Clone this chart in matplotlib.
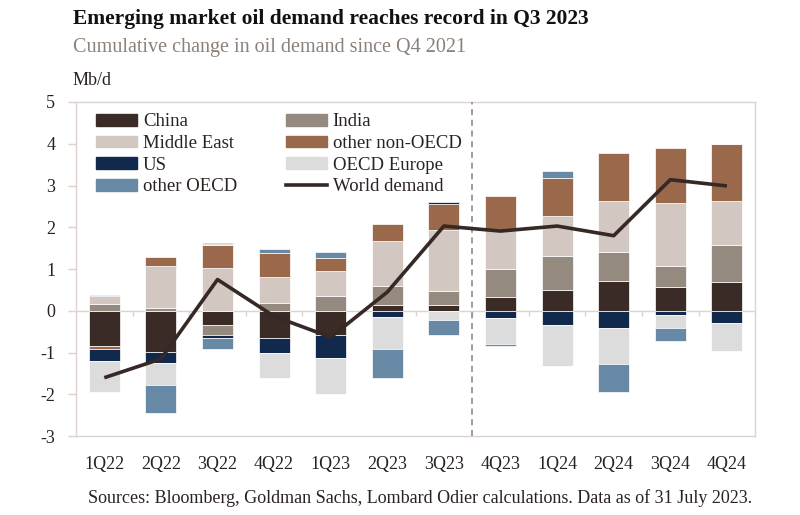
import numpy as np
import matplotlib
matplotlib.use("Agg")
from matplotlib import pyplot as plt
from matplotlib.patches import Patch
from matplotlib.lines import Line2D

plt.rcParams['font.family'] = ['Liberation Serif', 'DejaVu Serif']
plt.rcParams['axes.unicode_minus'] = False

quarters = ['1Q22', '2Q22', '3Q22', '4Q22', '1Q23', '2Q23', '3Q23',
            '4Q23', '1Q24', '2Q24', '3Q24', '4Q24']

# cumulative change since Q4 2021, Mb/d
china = [-0.84, -0.99, -0.35, -0.65, -0.58, 0.15, 0.14, 0.32, 0.51, 0.72, 0.56, 0.68]
india = [0.17, 0.06, -0.22, 0.20, 0.35, 0.45, 0.34, 0.68, 0.80, 0.68, 0.52, 0.90]
middle_east = [0.19, 1.02, 1.02, 0.61, 0.60, 1.07, 1.46, 0.94, 0.96, 1.24, 1.49, 1.04]
other_non_oecd = [-0.07, 0.22, 0.56, 0.58, 0.32, 0.42, 0.61, 0.82, 0.91, 1.14, 1.32, 1.38]
us = [-0.30, -0.26, -0.07, -0.36, -0.56, -0.15, 0.05, -0.16, -0.35, -0.40, -0.09, -0.28]
oecd_europe = [-0.74, -0.53, 0.08, -0.60, -0.86, -0.77, -0.23, -0.64, -0.97, -0.87, -0.31, -0.69]
other_oecd = [0.03, -0.66, -0.28, 0.09, 0.14, -0.68, -0.35, -0.03, 0.16, -0.66, -0.31, 0.0]
world = [-1.60, -1.15, 0.75, -0.13, -0.63, 0.45, 2.03, 1.91, 2.03, 1.80, 3.14, 2.99]

series = [
    ('China', china, '#3a2b27'),
    ('India', india, '#958a80'),
    ('Middle East', middle_east, '#d3c7c1'),
    ('other non-OECD', other_non_oecd, '#9a694c'),
    ('US', us, '#10294c'),
    ('OECD Europe', oecd_europe, '#dddcdc'),
    ('other OECD', other_oecd, '#6889a5'),
]
line_col = '#362824'
frame_col = '#dcd3ce'
text_col = '#2a2220'

fig = plt.figure(figsize=(8, 5.15), dpi=100)
ax = fig.add_axes([0.095, 0.153, 0.849, 0.649])

x = np.arange(len(quarters))
pos = np.zeros(len(x))
neg = np.zeros(len(x))
for name, vals, col in series:
    v = np.array(vals)
    bottom = np.where(v >= 0, pos, neg)
    ax.bar(x, v, 0.55, bottom=bottom, color=col, edgecolor='white',
           linewidth=0.5, zorder=3)
    pos = pos + np.where(v >= 0, v, 0)
    neg = neg + np.where(v < 0, v, 0)

ax.plot(x, world, color=line_col, lw=2.6, zorder=5, solid_capstyle='butt')

# zero line with small category ticks, and the forecast divider
ax.axhline(0, color=frame_col, lw=1, zorder=2)
bounds = np.arange(0.5, len(x) - 1, 1.0)
ax.vlines(bounds, -0.13, 0, color=frame_col, lw=1, zorder=2)
ax.axvline(6.5, color='#8a807a', lw=1.1, ls=(0, (4, 3)), zorder=4)

ax.set_xlim(-0.5, 11.5)
ax.set_ylim(-3, 5)
ax.set_yticks(range(-3, 6))
ax.set_xticks(x)
ax.set_xticklabels(quarters)
ax.tick_params(axis='x', length=0, pad=14, labelsize=13, colors=text_col)
ax.tick_params(axis='y', length=6, width=1, color=frame_col, pad=9,
               labelsize=13, labelcolor=text_col)
for s in ax.spines.values():
    s.set_color(frame_col)
    s.set_linewidth(1)

handles = {name: Patch(color=col) for name, vals, col in series}
handles['World demand'] = Line2D([], [], color=line_col, lw=2.6)
order = ['China', 'Middle East', 'US', 'other OECD',
         'India', 'other non-OECD', 'OECD Europe', 'World demand']
ax.legend([handles[k] for k in order], order, ncol=2, loc='upper left',
          bbox_to_anchor=(0.01, 1.005), frameon=False, fontsize=13.5,
          handlelength=2.2, handleheight=0.6, handletextpad=0.3,
          columnspacing=2.6, labelspacing=0.25, borderpad=0.2,
          labelcolor=text_col)

fig.text(0.091, 0.963, 'Emerging market oil demand reaches record in Q3 2023',
         fontsize=15.5, fontweight='bold', color='#111111', va='center')
fig.text(0.091, 0.908, 'Cumulative change in oil demand since Q4 2021',
         fontsize=14.5, color='#8b817a', va='center')
fig.text(0.091, 0.843, 'Mb/d', fontsize=13, color=text_col, va='center')
fig.text(0.11, 0.033, 'Sources: Bloomberg, Goldman Sachs, Lombard Odier '
         'calculations. Data as of 31 July 2023.', fontsize=13,
         color=text_col, va='center')

fig.savefig('out.png', dpi=100)
